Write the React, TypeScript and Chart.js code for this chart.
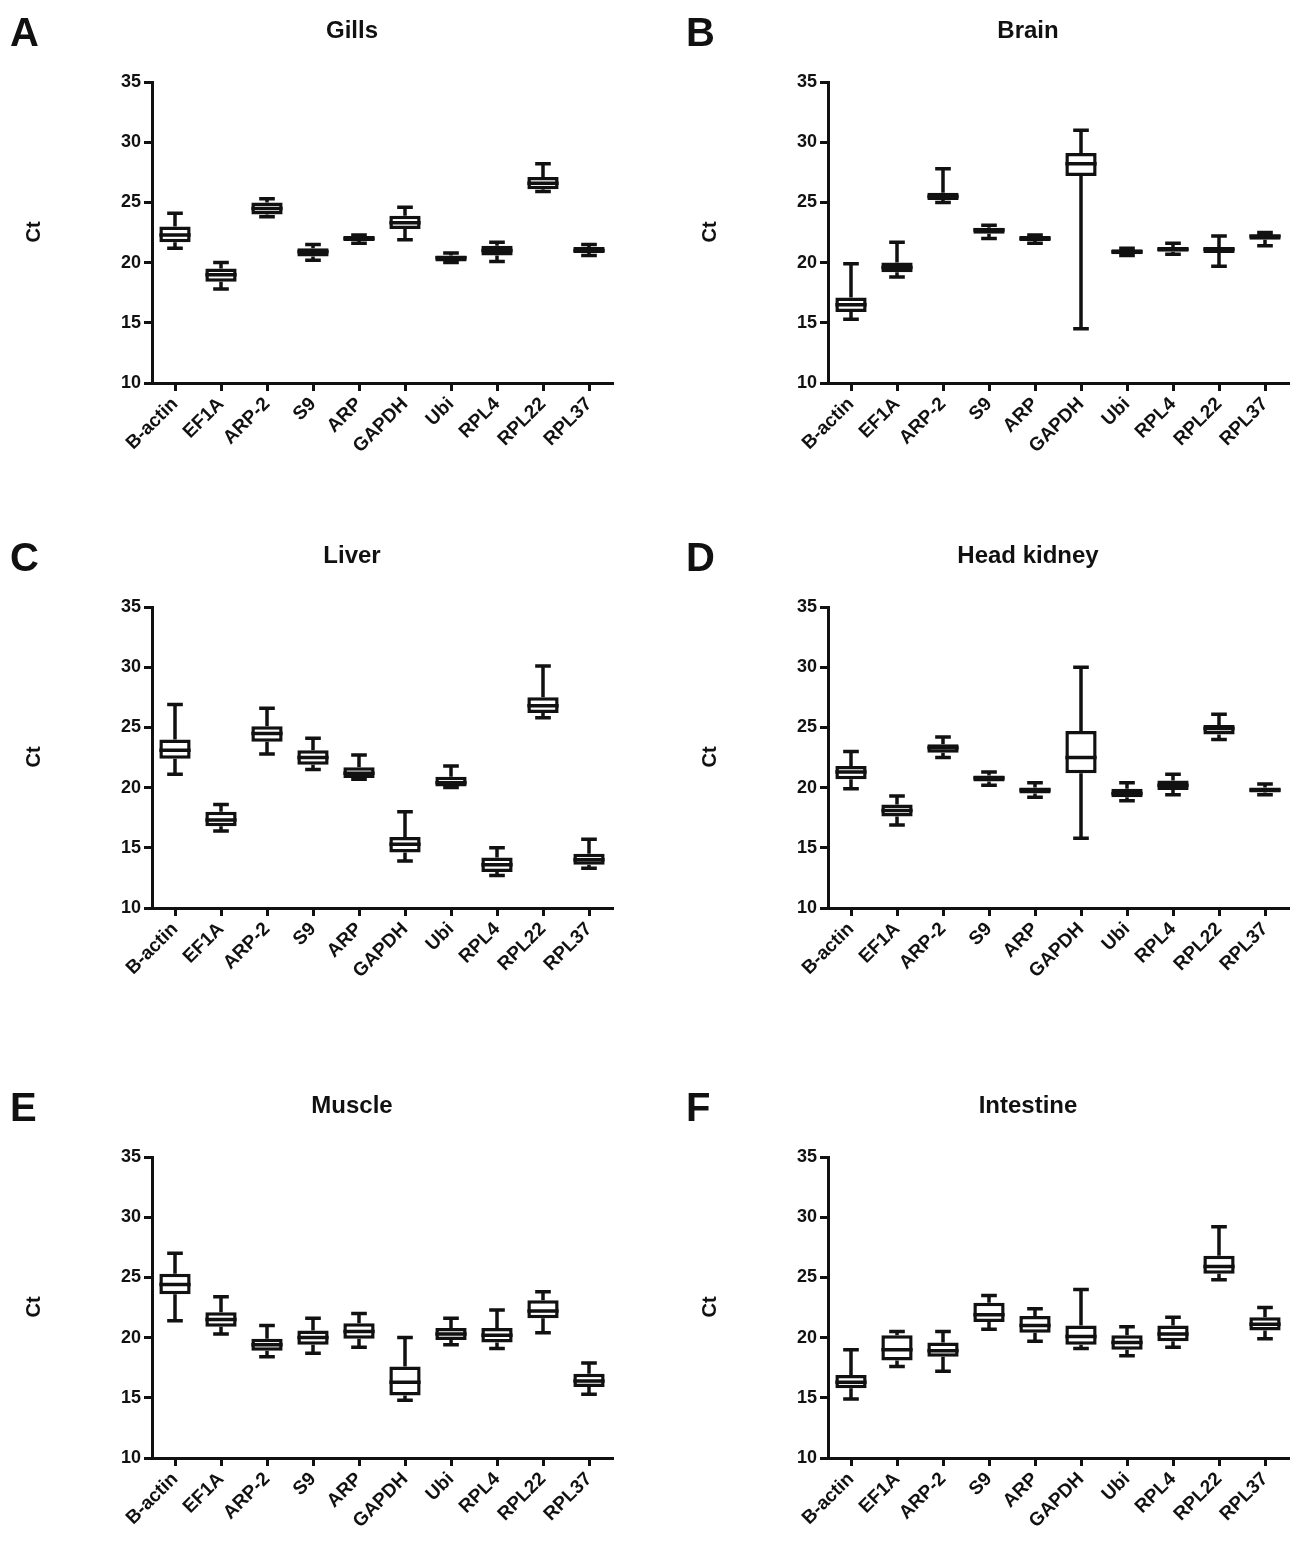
import React, { useEffect, useRef } from "react";
import { Chart, registerables } from "chart.js";
Chart.register(...registerables);

const genes = ["B-actin", "EF1A", "ARP-2", "S9", "ARP", "GAPDH", "Ubi", "RPL4", "RPL22", "RPL37"];
const yTicks = [10, 15, 20, 25, 30, 35];
// each entry: [min, q1, median, q3, max]
const gills = [[21.2,21.7,22.3,23.0,24.1],[17.8,18.4,19.0,19.5,20.0],[23.8,24.0,24.5,25.0,25.3],[20.2,20.5,20.9,21.2,21.5],[21.6,21.8,22.0,22.2,22.3],[21.9,22.8,23.3,23.9,24.6],[20.0,20.1,20.4,20.6,20.8],[20.1,20.6,21.0,21.4,21.7],[25.9,26.1,26.6,27.1,28.2],[20.6,20.8,21.0,21.3,21.5]];
const brain = [[15.3,15.9,16.5,17.1,19.9],[18.8,19.2,19.6,20.0,21.7],[25.0,25.2,25.5,25.8,27.8],[22.0,22.4,22.7,22.9,23.1],[21.6,21.8,22.0,22.2,22.3],[14.5,27.2,28.2,29.1,31.0],[20.6,20.7,20.9,21.1,21.2],[20.7,20.9,21.1,21.3,21.6],[19.7,20.8,21.1,21.3,22.2],[21.4,21.9,22.2,22.3,22.5]];
const liver = [[21.1,22.4,23.1,24.0,26.9],[16.4,16.8,17.3,18.0,18.6],[22.8,23.8,24.5,25.1,26.6],[21.5,21.9,22.5,23.1,24.1],[20.7,20.8,21.2,21.7,22.7],[13.9,14.6,15.3,15.9,18.0],[20.0,20.1,20.4,20.9,21.8],[12.7,13.0,13.6,14.2,15.0],[25.8,26.2,26.8,27.5,30.1],[13.3,13.6,14.0,14.5,15.7]];
const headKidney = [[19.9,20.7,21.3,21.8,23.0],[16.9,17.6,18.1,18.6,19.3],[22.5,22.9,23.3,23.6,24.2],[20.2,20.5,20.8,21.0,21.3],[19.2,19.5,19.8,20.0,20.4],[15.8,21.2,22.5,24.7,30.0],[18.9,19.2,19.5,19.9,20.4],[19.4,19.8,20.2,20.6,21.1],[24.0,24.4,24.9,25.2,26.1],[19.4,19.6,19.8,20.0,20.3]];
const muscle = [[21.4,23.6,24.4,25.3,27.0],[20.3,20.9,21.5,22.1,23.4],[18.4,18.9,19.4,19.9,21.0],[18.7,19.4,20.0,20.6,21.6],[19.2,19.9,20.5,21.2,22.0],[14.8,15.2,16.3,17.6,20.0],[19.4,19.8,20.3,20.8,21.6],[19.1,19.6,20.2,20.8,22.3],[20.4,21.6,22.2,23.1,23.8],[15.3,15.9,16.4,17.0,17.9]];
const intestine = [[14.9,15.8,16.3,16.9,19.0],[17.6,18.1,19.0,20.2,20.5],[17.2,18.4,18.9,19.6,20.5],[20.7,21.3,21.9,22.9,23.5],[19.7,20.4,21.0,21.8,22.4],[19.1,19.4,20.1,21.0,24.0],[18.5,19.0,19.6,20.2,20.9],[19.2,19.7,20.3,21.0,21.7],[24.8,25.3,25.9,26.8,29.2],[19.9,20.6,21.1,21.7,22.5]];

const panels = [
  { letter: "A", title: "Gills", data: gills, x: 0, y: 0 },
  { letter: "B", title: "Brain", data: brain, x: 676, y: 0 },
  { letter: "C", title: "Liver", data: liver, x: 0, y: 525 },
  { letter: "D", title: "Head kidney", data: headKidney, x: 676, y: 525 },
  { letter: "E", title: "Muscle", data: muscle, x: 0, y: 1075 },
  { letter: "F", title: "Intestine", data: intestine, x: 676, y: 1075 },
];

const FONT = "'Liberation Sans', Arial, sans-serif";

const whiskerPlugin = {
  id: "whiskers",
  afterDatasetsDraw(chart: any) {
    const stats = chart.options.plugins.whiskers.stats as number[][];
    const ctx = chart.ctx;
    const xs = chart.scales.x, ys = chart.scales.y;
    const meta = chart.getDatasetMeta(0);
    ctx.save();
    ctx.strokeStyle = "#111";
    ctx.lineWidth = 3.5;
    stats.forEach((s, i) => {
      const bar = meta.data[i];
      const cx = xs.getPixelForValue(i);
      const half = bar.width / 2;
      const cap = half * 0.5;
      const p = s.map((v) => ys.getPixelForValue(v));
      ctx.beginPath();
      ctx.moveTo(cx, p[0]); ctx.lineTo(cx, p[1]);
      ctx.moveTo(cx, p[3]); ctx.lineTo(cx, p[4]);
      ctx.moveTo(cx - cap, p[0]); ctx.lineTo(cx + cap, p[0]);
      ctx.moveTo(cx - cap, p[4]); ctx.lineTo(cx + cap, p[4]);
      ctx.moveTo(cx - half, p[2]); ctx.lineTo(cx + half, p[2]);
      ctx.stroke();
    });
    ctx.restore();
  },
};

function Panel({ p }: { p: any }) {
  const ref = useRef<HTMLCanvasElement>(null);
  useEffect(() => {
    const chart = new Chart(ref.current!, {
      type: "bar",
      data: {
        labels: genes,
        datasets: [{
          data: p.data.map((s: number[]) => [s[1], s[3]]),
          backgroundColor: "#fff",
          borderColor: "#111",
          borderWidth: 3.5,
          borderSkipped: false,
          barPercentage: 0.68,
          categoryPercentage: 1,
        }],
      },
      options: {
        animation: false,
        responsive: false,
        layout: { padding: { left: 0, top: 82, right: 33, bottom: 0 } },
        plugins: { legend: { display: false }, tooltip: { enabled: false }, whiskers: { stats: p.data } } as any,
        scales: {
          x: {
            afterFit: (s: any) => { s.height = 142; },
            grid: { display: true, offset: false, drawOnChartArea: false, drawTicks: true, tickLength: 8, color: "#111", lineWidth: 3 },
            border: { color: "#111", width: 3 },
            ticks: { color: "#111", minRotation: 45, maxRotation: 45, padding: 2, font: { family: FONT, size: 19, weight: "bold" } },
          },
          y: {
            min: 10, max: 35,
            afterFit: (s: any) => { s.width = 152; },
            afterBuildTicks: (s: any) => { s.ticks = yTicks.map((v) => ({ value: v })); },
            grid: { display: true, drawOnChartArea: false, drawTicks: true, tickLength: 8, color: "#111", lineWidth: 3 },
            border: { color: "#111", width: 3 },
            ticks: { color: "#111", padding: 3, font: { family: FONT, size: 18, weight: "bold" } },
          },
        },
      },
      plugins: [whiskerPlugin],
    });
    return () => chart.destroy();
  }, []);
  const txt: React.CSSProperties = { position: "absolute", fontFamily: FONT, fontWeight: "bold", color: "#111", lineHeight: 1 };
  return (
    <div style={{ position: "absolute", left: p.x, top: p.y, width: 645, height: 525 }}>
      <canvas ref={ref} width={645} height={525} style={{ position: "absolute", left: 0, top: 0 }} />
      <div style={{ ...txt, left: 10, top: 12, fontSize: 40 }}>{p.letter}</div>
      <div style={{ ...txt, left: 152, width: 400, top: 18, fontSize: 24, textAlign: "center" }}>{p.title}</div>
      <div style={{ ...txt, left: 33, top: 232, fontSize: 20, transform: "translate(-50%,-50%) rotate(-90deg)" }}>Ct</div>
    </div>
  );
}

export default function App() {
  return (
    <div style={{ position: "absolute", left: 0, top: 0, width: 1291, height: 1546, background: "#fff" }}>
      {panels.map((p) => <Panel key={p.letter} p={p} />)}
    </div>
  );
}
